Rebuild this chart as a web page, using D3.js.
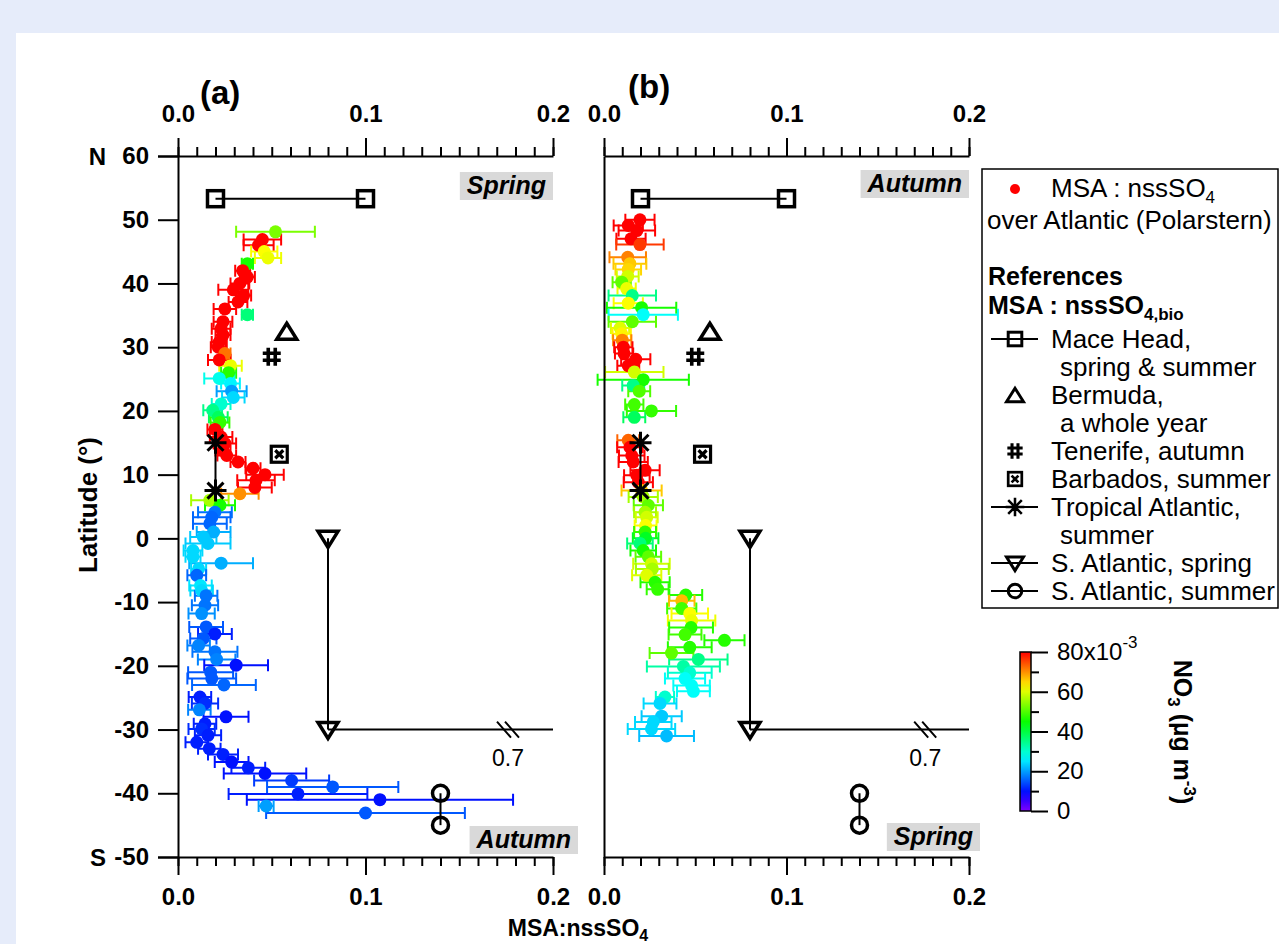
<!DOCTYPE html>
<html>
<head>
<meta charset="utf-8">
<style>
  body { margin: 0; background: #e6ecfa; }
  svg { display: block; font-family: "Liberation Sans", Arial, sans-serif; }
  .axis path, .axis line { stroke: #000; stroke-width: 2; }
  .axis text { font-size: 24px; font-weight: bold; fill: #000; font-family: "Liberation Sans", Arial, sans-serif; }
  .cbar text { font-weight: normal; font-size: 24px; }
</style>
<script src="https://d3js.org/d3.v7.min.js"></script>
</head>
<body>
<svg width="1279" height="944"></svg>
<script>

// panel (a): latitude, MSA:nssSO4, error (half width), NO3 (x10^-3 ug m-3)
var aLat = [48.1, 46.9, 46.0, 45.0, 44.0, 43.1, 42.0, 41.0, 40.0, 39.0, 38.1, 37.1, 36.0, 35.1, 34.0, 32.9, 31.9, 30.8, 30.0, 29.0,
            28.0, 27.1, 26.0, 25.1, 24.3, 23.1, 22.1, 21.1, 20.1, 19.0, 18.2, 17.1, 15.9, 14.9, 13.8, 13.0, 12.0, 11.0, 10.0, 9.1,
            8.0, 7.0, 6.0, 5.2, 4.1, 3.3, 2.3, 1.0, 0.2, -0.8, -1.9, -2.9, -3.9, -4.8, -5.8, -7.4, -8.2, -9.0, -10.5, -11.8,
            -13.9, -15.0, -15.7, -16.8, -17.8, -19.0, -19.9, -21.0, -22.0, -23.0, -24.9, -25.9, -26.9, -28.0, -29.1, -29.9, -30.9, -32.0, -33.0, -33.9,
            -35.1, -36.0, -36.9, -38.0, -39.0, -40.1, -41.0, -42.0, -43.1];
var aMsa = [0.052, 0.045, 0.043, 0.046, 0.048, 0.037, 0.0345, 0.037, 0.033, 0.0295, 0.035, 0.032, 0.025, 0.037, 0.024, 0.023, 0.024, 0.022, 0.0215, 0.025,
            0.022, 0.028, 0.027, 0.022, 0.028, 0.0286, 0.0295, 0.023, 0.0185, 0.0215, 0.0224, 0.0197, 0.023, 0.025, 0.024, 0.026, 0.032, 0.040, 0.0464, 0.0416,
            0.041, 0.033, 0.017, 0.0224, 0.0197, 0.018, 0.017, 0.019, 0.0135, 0.016, 0.008, 0.008, 0.023, 0.011, 0.010, 0.012, 0.0126, 0.015, 0.0144, 0.0126,
            0.015, 0.0197, 0.0135, 0.011, 0.0197, 0.0206, 0.031, 0.0174, 0.018, 0.0245, 0.0117, 0.0144, 0.0114, 0.0256, 0.0144, 0.0126, 0.016, 0.010, 0.0167, 0.024,
            0.0286, 0.0375, 0.0464, 0.0606, 0.0825, 0.064, 0.1077, 0.047, 0.100];
var aErr = [0.021, 0.010, 0.008, 0.007, 0.007, 0.003, 0.004, 0.004, 0.005, 0.008, 0.004, 0.005, 0.006, 0.003, 0.005, 0.005, 0.004, 0.004, 0.004, 0.003,
            0.006, 0.006, 0.004, 0.008, 0.005, 0.008, 0.006, 0.005, 0.005, 0.005, 0.005, 0.004, 0.006, 0.006, 0.004, 0.005, 0.004, 0.004, 0.010, 0.010,
            0.009, 0.010, 0.010, 0.008, 0.009, 0.010, 0.009, 0.009, 0.007, 0.012, 0.005, 0.004, 0.017, 0.004, 0.005, 0.006, 0.006, 0.006, 0.007, 0.007,
            0.009, 0.009, 0.007, 0.006, 0.012, 0.010, 0.017, 0.012, 0.013, 0.017, 0.006, 0.007, 0.006, 0.012, 0.006, 0.007, 0.007, 0.006, 0.006, 0.008,
            0.009, 0.009, 0.022, 0.020, 0.035, 0.037, 0.071, 0.004, 0.053];
var aNo3 = [53, 80, 80, 62, 61, 46, 80, 80, 80, 80, 80, 80, 80, 36, 80, 80, 80, 80, 80, 72,
            80, 61, 47, 28, 26, 20, 24, 30, 35, 38, 48, 80, 80, 80, 80, 80, 80, 80, 80, 80,
            80, 70, 56, 46, 17, 16, 16, 21, 23, 23, 24, 24, 21, 24, 16, 25, 24, 17, 17, 19,
            15, 11, 15, 18, 17, 18, 10, 15, 15, 16, 11, 12, 18, 10, 11, 12, 11, 11, 11, 11,
            10, 11, 10, 13, 15, 11, 10, 20, 15];

// panel (b)
var bLat = [50.0, 49.1, 48.3, 47.0, 46.1, 44.1, 43.1, 42.2, 41.1, 40.2, 39.2, 38.1, 36.9, 36.2, 35.1, 34.0, 33.0, 32.1, 31.1, 30.0,
            29.0, 28.1, 27.1, 26.1, 24.9, 24.0, 23.1, 21.0, 20.0, 19.0, 15.4, 14.3, 13.0, 12.0, 10.7, 9.9, 8.8, 7.5, 6.5, 5.2,
            4.1, 3.3, 2.0, 1.0, 0.0, -0.8, -1.9, -2.9, -4.0, -4.8, -5.8, -6.9, -8.0, -8.9, -9.8, -11.0, -11.8, -12.9, -14.0, -15.1,
            -16.0, -17.1, -18.0, -19.0, -20.1, -21.1, -22.0, -23.1, -24.0, -24.9, -25.9, -27.9, -28.8, -29.9, -31.0];
var bMsa = [0.0197, 0.0133, 0.018, 0.0148, 0.0197, 0.013, 0.0142, 0.0133, 0.013, 0.0097, 0.0124, 0.0155, 0.0133, 0.0206, 0.0215, 0.0155, 0.0088, 0.0097, 0.010, 0.0106,
            0.011, 0.0174, 0.0133, 0.0166, 0.0215, 0.016, 0.0193, 0.0166, 0.026, 0.0166, 0.0133, 0.0142, 0.0152, 0.016, 0.0225, 0.018, 0.0188, 0.0206, 0.0215, 0.0243,
            0.0225, 0.0234, 0.0228, 0.0225, 0.0228, 0.0197, 0.0215, 0.0243, 0.026, 0.0265, 0.0234, 0.028, 0.0294, 0.0448, 0.0426, 0.0426, 0.047, 0.048, 0.0477, 0.0444,
            0.066, 0.047, 0.037, 0.0517, 0.0435, 0.047, 0.0444, 0.048, 0.049, 0.0334, 0.0307, 0.0316, 0.027, 0.026, 0.0343];
var bErr = [0.008, 0.008, 0.010, 0.008, 0.013, 0.010, 0.009, 0.007, 0.006, 0.005, 0.005, 0.013, 0.008, 0.019, 0.019, 0.013, 0.005, 0.005, 0.005, 0.005,
            0.005, 0.008, 0.006, 0.016, 0.025, 0.006, 0.006, 0.005, 0.0135, 0.006, 0.006, 0.007, 0.007, 0.008, 0.008, 0.007, 0.008, 0.011, 0.008, 0.008,
            0.006, 0.006, 0.006, 0.006, 0.007, 0.007, 0.007, 0.007, 0.010, 0.009, 0.008, 0.008, 0.006, 0.009, 0.007, 0.008, 0.010, 0.013, 0.012, 0.009,
            0.011, 0.012, 0.012, 0.016, 0.020, 0.012, 0.011, 0.010, 0.009, 0.005, 0.009, 0.011, 0.010, 0.013, 0.015];
var bNo3 = [80, 80, 80, 80, 76, 71, 66, 65, 59, 51, 61, 35, 62, 46, 27, 51, 60, 63, 71, 80,
            80, 80, 80, 59, 46, 35, 50, 49, 48, 38, 73, 80, 80, 80, 80, 80, 80, 66, 56, 51,
            56, 59, 62, 48, 42, 36, 46, 51, 59, 56, 60, 47, 48, 47, 67, 49, 62, 61, 47, 49,
            47, 47, 51, 35, 33, 30, 27, 27, 27, 30, 24, 23, 24, 24, 22];

// literature references (same in both panels)
var refNames = ["Mace Head", "Bermuda", "Tenerife", "Barbados", "Tropical Atlantic", "S. Atlantic, spring", "S. Atlantic, summer"];
var refMsa = [[0.02, 0.1], [0.058], [0.05], [0.054], [0.02, 0.02], [0.08, 0.08], [0.14, 0.14]];
var refLat = [[53.3, 53.3], [32.5], [28.5], [13.2], [15, 7.5], [0, -30], [-40, -45]];
var refSym = ["square", "triUp", "hash", "boxX", "aster", "triDown", "circle"];
var legendText = [["Mace Head,", "spring & summer"], ["Bermuda,", "a whole year"], ["Tenerife, autumn"], ["Barbados, summer"],
                  ["Tropical Atlantic,", "summer"], ["S. Atlantic, spring"], ["S. Atlantic, summer"]];
var legendLine = [true, false, false, false, true, true, true];

var xTicks = [0.0, 0.1, 0.2];
var yTicks = [-50, -40, -30, -20, -10, 0, 10, 20, 30, 40, 50, 60];
var cbarTicks = [0, 20, 40, 60, 80];

var svg = d3.select("svg");

svg.append("rect").attr("width", 1279).attr("height", 944).attr("fill", "#e6ecfa");
svg.append("rect").attr("x", 16).attr("y", 33).attr("width", 1263).attr("height", 911).attr("fill", "#fff");

var y = d3.scaleLinear().domain([-50, 60]).range([857, 156]);
var xa = d3.scaleLinear().domain([0, 0.2]).range([178, 553]);
var xb = d3.scaleLinear().domain([0, 0.2]).range([604, 969]);

function col(v) {
    v = Math.max(0, Math.min(80, v));
    return d3.hsl(270 - 270 * v / 80, 1, 0.5).toString();
}

function symbol(g, type, cx, cy, s) {
    var k = s || 1;
    var p = g.append("g").attr("transform", "translate(" + cx + "," + cy + ") scale(" + k + ")")
             .attr("fill", "none").attr("stroke", "#000").attr("stroke-width", 3.5);
    if (type == "square") {
        p.append("rect").attr("x", -8).attr("y", -8).attr("width", 16).attr("height", 16);
    } else if (type == "triUp") {
        p.append("path").attr("d", "M0,-8L10,8L-10,8Z").attr("stroke-linejoin", "miter");
    } else if (type == "triDown") {
        p.append("path").attr("d", "M-10,-7L10,-7L0,9Z");
    } else if (type == "circle") {
        p.append("circle").attr("r", 8);
    } else if (type == "hash") {
        p.attr("stroke-width", 3.6);
        p.append("path").attr("d", "M-3.5,-9V9M3.5,-9V9M-9,-3.5H9M-9,3.5H9");
    } else if (type == "boxX") {
        p.attr("stroke-width", 3.2);
        p.append("rect").attr("x", -8).attr("y", -8).attr("width", 16).attr("height", 16);
        p.append("path").attr("d", "M-4,-4L4,4M4,-4L-4,4");
    } else if (type == "aster") {
        p.attr("stroke-width", 3);
        p.append("path").attr("d", "M0,-11V11M-11,0H11M-8,-8L8,8M8,-8L-8,8");
    }
}

function axes(x, showY) {
    var minor = d3.range(0, 21).map(function(i) { return i / 100; });
    svg.append("g").attr("class", "axis").attr("transform", "translate(0,156)")
       .call(d3.axisTop(x).tickValues(minor).tickSize(9).tickSizeOuter(0).tickFormat(""));
    svg.append("g").attr("class", "axis").attr("transform", "translate(0,156)")
       .call(d3.axisTop(x).tickValues(xTicks).tickSize(18).tickPadding(16).tickFormat(d3.format(".1f")))
       .select(".domain").remove();
    svg.append("g").attr("class", "axis").attr("transform", "translate(0,857)")
       .call(d3.axisBottom(x).tickValues(minor).tickSize(9).tickSizeOuter(0).tickFormat(""));
    svg.append("g").attr("class", "axis").attr("transform", "translate(0,857)")
       .call(d3.axisBottom(x).tickValues(xTicks).tickSize(18).tickPadding(13).tickFormat(d3.format(".1f")))
       .select(".domain").remove();
    var ya = d3.axisLeft(y).tickSizeOuter(0);
    if (showY) ya.tickValues(yTicks).tickSize(20).tickPadding(9).tickFormat(function(d) { return String(d); });
    else ya.tickValues([]);
    svg.append("g").attr("class", "axis").attr("transform", "translate(" + x(0) + ",0)").call(ya);
}

function panel(x, lat, msa, err, no3, seasons, boxes) {
    var g = svg.append("g");
    lat.forEach(function(d, i) {
        var c = col(no3[i]), yy = y(d), x0 = x(msa[i] - err[i]), x1 = x(msa[i] + err[i]);
        g.append("path")
         .attr("d", "M" + x0 + "," + yy + "H" + x1 + "M" + x0 + "," + (yy - 6) + "V" + (yy + 6) + "M" + x1 + "," + (yy - 6) + "V" + (yy + 6))
         .attr("stroke", c).attr("stroke-width", 2).attr("fill", "none");
    });
    lat.forEach(function(d, i) {
        g.append("circle").attr("cx", x(msa[i])).attr("cy", y(d)).attr("r", 6.5).attr("fill", col(no3[i]));
    });

    // reference values
    refSym.forEach(function(s, i) {
        var xs = refMsa[i], ys = refLat[i];
        if (xs.length > 1) {
            g.append("line").attr("x1", x(xs[0])).attr("y1", y(ys[0])).attr("x2", x(xs[1])).attr("y2", y(ys[1]))
             .attr("stroke", "#000").attr("stroke-width", 2);
        }
        if (s == "triDown") {
            var yl = y(ys[1]), bx = x(0.176);
            g.append("line").attr("x1", x(xs[1])).attr("y1", yl).attr("x2", x(0.2)).attr("y2", yl)
             .attr("stroke", "#000").attr("stroke-width", 2);
            g.append("path").attr("d", "M" + (bx - 11) + "," + (yl - 8) + "L" + (bx + 3) + "," + (yl + 8) +
                                       "M" + (bx - 3) + "," + (yl - 8) + "L" + (bx + 11) + "," + (yl + 8))
             .attr("stroke", "#000").attr("stroke-width", 2);
            g.append("text").attr("x", bx).attr("y", yl + 36).attr("text-anchor", "middle")
             .style("font-size", "23px").text("0.7");
        }
        xs.forEach(function(v, j) { symbol(g, s, x(v), y(ys[j])); });
    });

    // season tags
    seasons.forEach(function(s, i) {
        var b = boxes[i];
        var t = g.append("text").attr("x", b[0] - 7).attr("y", b[1] + 22).attr("text-anchor", "end")
                 .style("font-size", "25px").style("font-weight", "bold").style("font-style", "italic").text(s);
        var w = t.node().getComputedTextLength();
        g.insert("rect", "text").attr("x", b[0] - w - 14).attr("y", b[1]).attr("width", w + 14).attr("height", 28)
         .attr("fill", "#d9d9d9");
    });
}

panel(xa, aLat, aMsa, aErr, aNo3, ["Spring", "Autumn"], [[553, 172], [578, 826]]);
panel(xb, bLat, bMsa, bErr, bNo3, ["Autumn", "Spring"], [[969, 170], [980, 823]]);
axes(xa, true);
axes(xb, false);

svg.append("text").attr("x", 106).attr("y", 165).attr("text-anchor", "end")
   .style("font-size", "24px").style("font-weight", "bold").text("N");
svg.append("text").attr("x", 106).attr("y", 866).attr("text-anchor", "end")
   .style("font-size", "24px").style("font-weight", "bold").text("S");
svg.append("text").attr("transform", "translate(97,505) rotate(-90)").attr("text-anchor", "middle")
   .style("font-size", "26px").style("font-weight", "bold").text("Latitude (°)");
svg.append("text").attr("x", 200).attr("y", 104).style("font-size", "33px").style("font-weight", "bold").text("(a)");
svg.append("text").attr("x", 628).attr("y", 98).style("font-size", "33px").style("font-weight", "bold").text("(b)");

var xt = svg.append("text").attr("x", 578).attr("y", 936).attr("text-anchor", "middle")
   .style("font-size", "23px").style("font-weight", "bold");
xt.append("tspan").text("MSA:nssSO");
xt.append("tspan").attr("dy", 5).style("font-size", "16px").text("4");

// legend
var lg = svg.append("g");
lg.append("rect").attr("x", 982).attr("y", 169).attr("width", 296).attr("height", 439)
  .attr("fill", "#fff").attr("stroke", "#000").attr("stroke-width", 1.5);
lg.append("circle").attr("cx", 1015).attr("cy", 189).attr("r", 5).attr("fill", "#ff0000");
var t1 = lg.append("text").attr("x", 1051).attr("y", 197).style("font-size", "26px");
t1.append("tspan").text("MSA : nssSO");
t1.append("tspan").attr("dy", 6).style("font-size", "17px").text("4");
lg.append("text").attr("x", 987).attr("y", 229).style("font-size", "26px").text("over Atlantic (Polarstern)");
lg.append("text").attr("x", 988).attr("y", 285).style("font-size", "25px").style("font-weight", "bold").text("References");
var t2 = lg.append("text").attr("x", 988).attr("y", 314).style("font-size", "25px").style("font-weight", "bold");
t2.append("tspan").text("MSA : nssSO");
t2.append("tspan").attr("dy", 6).style("font-size", "17px").text("4,bio");

var ly = 339;
refSym.forEach(function(s, i) {
    if (legendLine[i]) {
        lg.append("line").attr("x1", 991).attr("x2", 1038).attr("y1", ly).attr("y2", ly)
          .attr("stroke", "#000").attr("stroke-width", 2);
    }
    symbol(lg, s, 1015, ly, 0.85);
    legendText[i].forEach(function(t, j) {
        lg.append("text").attr("x", j == 0 ? 1051 : 1060).attr("y", ly + 9).style("font-size", "26px").text(t);
        ly += 28;
    });
});

// colour bar
var cy = d3.scaleLinear().domain([0, 80]).range([811, 652]);
var grad = svg.append("defs").append("linearGradient").attr("id", "cb")
              .attr("x1", 0).attr("x2", 0).attr("y1", 1).attr("y2", 0);
d3.range(0, 81, 5).forEach(function(v) {
    grad.append("stop").attr("offset", v / 80).attr("stop-color", col(v));
});
svg.append("rect").attr("x", 1020).attr("y", 652).attr("width", 11).attr("height", 159)
   .attr("fill", "url(#cb)").attr("stroke", "#000").attr("stroke-width", 1.5);
svg.append("g").attr("class", "axis cbar").attr("transform", "translate(1031,0)")
   .call(d3.axisRight(cy).tickValues([10, 30, 50, 70]).tickSize(8).tickSizeOuter(0).tickFormat(""))
   .select(".domain").remove();
var cax = svg.append("g").attr("class", "axis cbar").attr("transform", "translate(1031,0)")
   .call(d3.axisRight(cy).tickValues(cbarTicks).tickSize(17).tickPadding(9).tickFormat(function(d) { return d == 80 ? "80x10" : d; }));
cax.select(".domain").remove();
cax.selectAll(".tick text").filter(function(d) { return d == 80; })
   .append("tspan").attr("dy", -12).style("font-size", "17px").text("-3");

var ct = svg.append("text").attr("transform", "translate(1174,732) rotate(90)").attr("text-anchor", "middle")
            .style("font-size", "25px").style("font-weight", "bold");
ct.append("tspan").text("NO");
ct.append("tspan").attr("dy", 6).style("font-size", "17px").text("3");
ct.append("tspan").attr("dy", -6).text(" (µg m");
ct.append("tspan").attr("dy", -10).style("font-size", "17px").text("-3");
ct.append("tspan").attr("dy", 10).text(")");

</script>
</body>
</html>
